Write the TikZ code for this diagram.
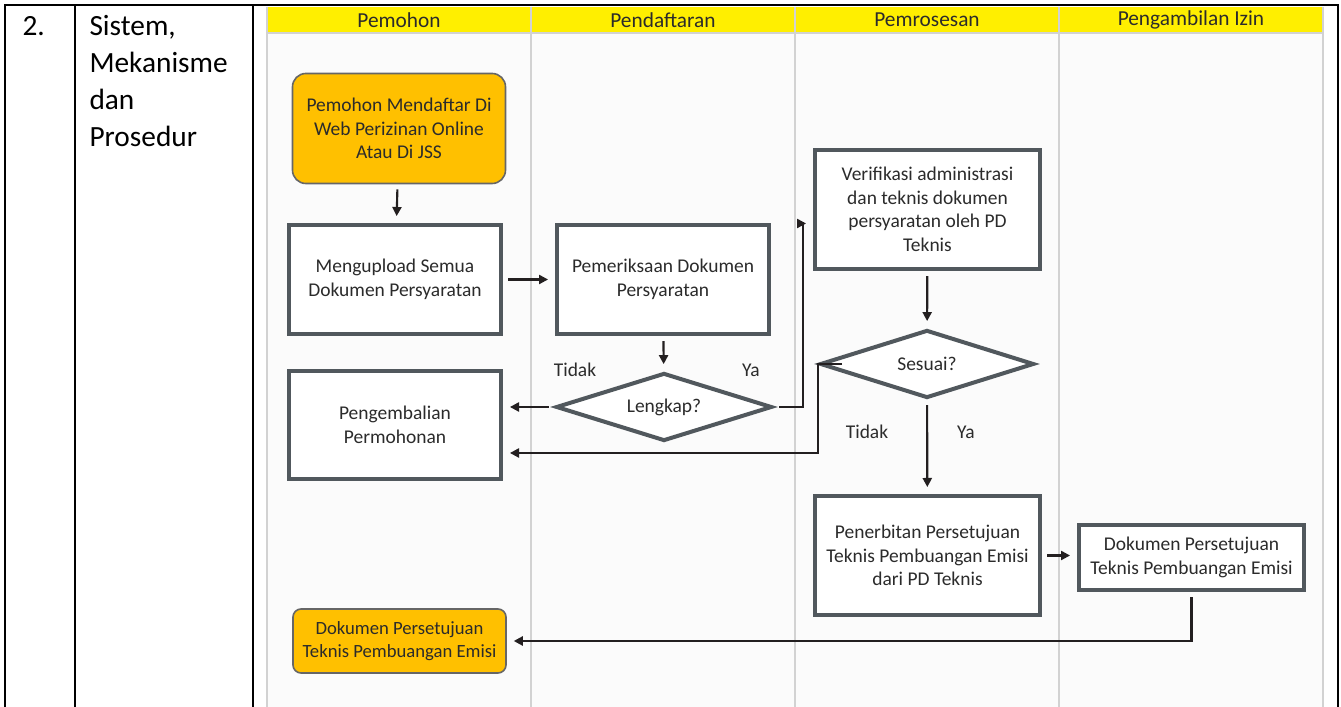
\documentclass[tikz,border=0pt]{standalone}
\usepackage{fontspec}
\setmainfont{Carlito}
\usetikzlibrary{shapes.geometric,arrows.meta}

\newdimen\pxu \pxu=0.375pt
\definecolor{lanefill}{HTML}{FBFBFB}
\definecolor{lanegray}{HTML}{D2D2D2}
\definecolor{headyellow}{HTML}{FFEF00}
\definecolor{boxgray}{HTML}{51585D}
\definecolor{startorange}{HTML}{FFC000}
\definecolor{arrowdark}{HTML}{231F20}
\definecolor{textdark}{HTML}{2B2B2B}

\tikzset{
  chart/.style={font=\fontsize{7.3}{8.8}\selectfont, text=textdark, align=center},
  procbox/.style={chart, draw=boxgray, line width=1.5pt, fill=white, inner sep=2pt},
  startbox/.style={chart, draw=gray!80!black, line width=0.6pt, fill=startorange, rounded corners=5pt},
  decision/.style={chart, diamond, aspect=3, inner sep=0pt, draw=boxgray, line width=1.5pt, fill=white},
  flow/.style={draw=arrowdark, line width=0.8pt, -{Triangle[length=3.4pt,width=3.4pt]},
    shorten <=1.9pt, shorten >=2.6pt},
  lanehead/.style={font=\fontsize{8}{9.6}\selectfont, text=textdark},
  tabletext/.style={font=\fontsize{11}{13.9}\selectfont, align=left, inner sep=0pt, anchor=north west}
}

\begin{document}
\begin{tikzpicture}[x=0.375pt,y=-0.375pt]
    \useasboundingbox (0,0) rectangle (1341,707);

    % Swimlanes
    \fill[lanefill] (267,7) rectangle (1323,707);
    \fill[headyellow] (267,7) rectangle (1323,33);
    \draw[lanegray] (267,33) -- (1323,33);
    \foreach \x in {267,531,795,1059,1323}
        \draw[lanegray] (\x,7) -- (\x,707);
    \node[lanehead] (hpemohon) at (399,20) {Pemohon};
    \node[lanehead] (hdaftar) at (663,20) {Pendaftaran};
    \node[lanehead] (hproses) at (927,20) {Pemrosesan};
    \node[lanehead] (hambil) at (1191,20) {Pengambilan Izin};

    % Table frame
    \draw[line width=0.75pt] (5,707) -- (5,5) -- (1338,5) -- (1338,707);
    \draw[line width=0.75pt] (75,5) -- (75,707);
    \draw[line width=0.75pt] (253,5) -- (253,707);
    \node[tabletext] (nomor) at (22,16) {2.};
    \node[tabletext] (judul) at (89,15) {Sistem,\\Mekanisme\\dan\\Prosedur};

    % Steps
    \node[startbox, minimum width=213\pxu, minimum height=110\pxu] (mulai) at (399,128.5)
        {Pemohon Mendaftar Di\\Web Perizinan Online\\Atau Di JSS};
    \node[procbox, minimum width=212\pxu, minimum height=109\pxu] (upload) at (395,279.5)
        {Mengupload Semua\\Dokumen Persyaratan};
    \node[procbox, minimum width=212\pxu, minimum height=109\pxu] (periksa) at (663,279.5)
        {Pemeriksaan Dokumen\\Persyaratan};
    \node[procbox, minimum width=212\pxu, minimum height=108\pxu] (kembali) at (395,425)
        {Pengembalian\\Permohonan};
    \node[decision, minimum width=216\pxu, minimum height=68\pxu] (lengkap) at (664,407) {Lengkap?};
    \node[procbox, minimum width=225\pxu, minimum height=119\pxu] (verif) at (927.5,209.5)
        {Verifikasi administrasi\\dan teknis dokumen\\persyaratan oleh PD\\Teknis};
    \node[decision, minimum width=214\pxu, minimum height=68\pxu] (sesuai) at (927,364) {Sesuai?};
    \node[procbox, minimum width=225\pxu, minimum height=119\pxu] (terbit) at (927.5,555.5)
        {Penerbitan Persetujuan\\Teknis Pembuangan Emisi\\dari PD Teknis};
    \node[procbox, minimum width=225\pxu, minimum height=65\pxu] (dokumen) at (1191.5,557.5)
        {Dokumen Persetujuan\\Teknis Pembuangan Emisi};
    \node[startbox, font=\fontsize{7}{8.8}\selectfont, inner sep=1pt, rounded corners=3pt,
        minimum width=213\pxu, minimum height=64\pxu] (selesai) at (399.5,641)
        {Dokumen Persetujuan\\Teknis Pembuangan Emisi};

    % Branch labels
    \node[chart] (tidak1) at (575,370) {Tidak};
    \node[chart] (ya1) at (751,370) {Ya};
    \node[chart] (tidak2) at (867,432) {Tidak};
    \node[chart] (ya2) at (966,432) {Ya};

    % Connectors
    \draw[flow] (mulai) -- (upload);
    \draw[flow] (upload) -- (periksa);
    \draw[flow] (periksa) -- (lengkap);
    \draw[flow] (lengkap.west) -- (lengkap.west -| kembali.east);
    \draw[flow] (lengkap.east) -- ++(29,0) |- ([yshift=-14\pxu]verif.west);
    \draw[flow] (verif) -- (sesuai);
    \draw[flow, shorten <=0pt] ([xshift=24\pxu]sesuai.west) -- (sesuai.west) |- ([yshift=-28\pxu]kembali.east);
    \draw[flow] (sesuai) -- (terbit);
    \draw[flow] (terbit.east) -- (terbit.east -| dokumen.west);
    \draw[flow] (dokumen.south) |- (selesai.east);
\end{tikzpicture}
\end{document}
